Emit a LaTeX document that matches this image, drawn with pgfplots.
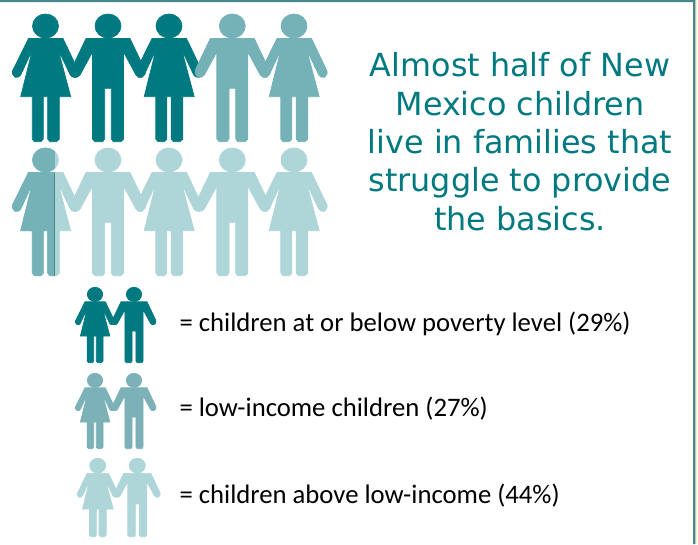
\documentclass[border=0pt]{standalone}
\usepackage{pgfplots}
\usepackage{pgfplotstable}
\usepackage{fontspec}
\pgfplotsset{compat=1.18}
\setmainfont{Carlito}
\newfontfamily\headfont{DejaVu Sans}

\definecolor{darkteal}{RGB}{0,122,128}
\definecolor{midteal}{RGB}{116,178,184}
\definecolor{legmid}{RGB}{124,178,183}
\definecolor{lightteal}{RGB}{174,213,216}
\definecolor{bordercol}{RGB}{72,136,140}
\definecolor{creamcol}{RGB}{250,238,205}

% outlines in px, centred on x=0, first row's y
\pgfplotstableread{
x y
-17 38.5
-33 71
-33 74
-30.5 77.3
-27 77
-24.8 75
-13.2 50
-24.8 96.7
-13.2 96.7
-13.2 139
-11 141.7
-4.5 141.7
-2.2 139
-2.2 96.7
2.2 96.7
2.2 139
4.5 141.7
11 141.7
13.8 139
13.8 96.7
25.2 96.7
12.8 50
24.8 75
27 77
30.5 77.3
33 74
33 71
17.5 38.5
-17 38.5
}\womantable

\pgfplotstableread{
x y
-22 38.5
-37 70
-37 74
-34 77.3
-30.5 77
-28 75
-15.5 52
-15.5 139
-13 141.7
-5.5 141.7
-3.3 139
-3.3 88.3
3.3 88.3
3.3 139
5.5 141.7
13 141.7
15.5 139
15.5 52
28 75
30.5 77
34 77.3
37 74
37 70
22 38.5
-22 38.5
}\mantable

\pgfplotstableread{
x y
13 26
12 21.4
9.2 17.5
5 14.9
0 14
-5 14.9
-9.2 17.5
-12 21.4
-13 26
-12 30.6
-9.2 34.5
-5 37.1
0 38
5 37.1
9.2 34.5
12 30.6
13 26
}\headtable

% left part of the row-2 woman, cut at x=9
\pgfplotstableread{
x y
-17 38.5
-33 71
-33 74
-30.5 77.3
-27 77
-24.8 75
-13.2 50
-24.8 96.7
-13.2 96.7
-13.2 139
-11 141.7
-4.5 141.7
-2.2 139
-2.2 96.7
2.2 96.7
2.2 139
4.5 141.7
9 141.7
9 38.5
-17 38.5
}\womanleft

\pgfplotstableread{
x y
9 17.5
5 14.9
0 14
-5 14.9
-9.2 17.5
-12 21.4
-13 26
-12 30.6
-9.2 34.5
-5 37.1
0 38
5 37.1
9 34.5
9 17.5
}\headleft

% #1 table, #2 centre x, #3 y of figure top, #4 scale, #5 colour
\newcommand{\shape}[5]{%
  \addplot[fill=#5, draw=#5, line width=0.7pt, line join=round, forget plot, mark=none]
    table[x expr={#2+#4*\thisrow{x}}, y expr={#3+#4*(\thisrow{y}-14)}] {#1};
}
\newcommand{\woman}[4]{\shape{\womantable}{#1}{#2}{#3}{#4}\shape{\headtable}{#1}{#2}{#3}{#4}}
\newcommand{\man}[4]{\shape{\mantable}{#1}{#2}{#3}{#4}\shape{\headtable}{#1}{#2}{#3}{#4}}

\begin{document}
\begin{tikzpicture}
\begin{axis}[
  hide axis,
  scale only axis,
  width=698pt, height=544pt,
  xmin=0, xmax=698,
  ymin=0, ymax=544,
  y dir=reverse,
  clip=true,
]
% frame
\addplot[fill=white, draw=none] coordinates {(0,0) (698,0) (698,544) (0,544)} -- cycle;
\addplot[fill=creamcol, draw=none] coordinates {(695,0) (697,0) (697,544) (695,544)} -- cycle;
\addplot[fill=bordercol, draw=none] coordinates {(0,0) (695.3,0) (695.3,544) (693,544) (693,2) (0,2)} -- cycle;

% top row
\woman{45.5}{14}{1}{darkteal}
\man{108}{14}{1}{darkteal}
\woman{169}{14}{1}{darkteal}
\man{232.3}{14}{1}{midteal}
\woman{294}{14}{1}{midteal}

% second row
\woman{45.5}{148}{1}{lightteal}
\man{108}{148}{1}{lightteal}
\woman{169}{148}{1}{lightteal}
\man{232.3}{148}{1}{lightteal}
\woman{294}{148}{1}{lightteal}
\shape{\womanleft}{45.5}{148}{1}{midteal}
\shape{\headleft}{45.5}{148}{1}{midteal}
\addplot[bordercol, line width=0.6pt] coordinates {(54.4,172.5) (54.4,276)};

% legend figures
\woman{95}{287.3}{0.59}{darkteal}
\man{134}{287.3}{0.59}{darkteal}
\woman{95}{373.3}{0.59}{legmid}
\man{134}{373.3}{0.59}{legmid}
\woman{97.7}{458.3}{0.614}{lightteal}
\man{137.3}{458.3}{0.614}{lightteal}

% heading
\begin{scope}[every node/.style={anchor=base, inner sep=0pt, text=darkteal, font=\headfont\fontsize{31.8}{33}\selectfont}]
\node at (axis cs:520,76.7) {Almost half of New};
\node at (axis cs:520,115) {Mexico children};
\node at (axis cs:520,153.3) {live in families that};
\node at (axis cs:520,191.7) {struggle to provide};
\node at (axis cs:520,230) {the basics.};
\end{scope}

% legend text
\begin{scope}[every node/.style={anchor=base west, inner sep=0pt, text=black, font=\fontsize{26.7}{29}\selectfont}]
\node at (axis cs:179.3,331.7) {= children at or below poverty level (29\%)};
\node at (axis cs:179.3,416) {= low-income children (27\%)};
\node at (axis cs:179.3,503.3) {= children above low-income (44\%)};
\end{scope}
\end{axis}
\end{tikzpicture}
\end{document}
